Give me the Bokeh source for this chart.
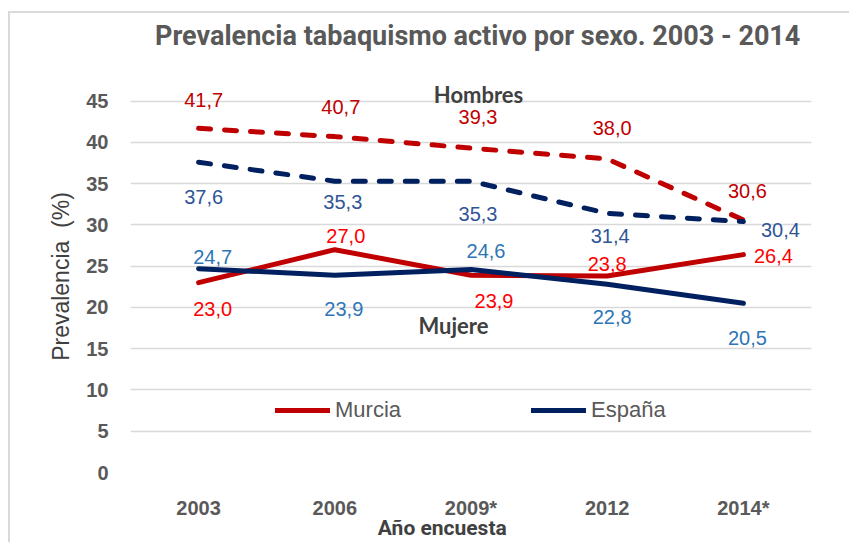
from bokeh.plotting import figure
from bokeh.models import (FactorRange, Range1d, ColumnDataSource, Legend, LegendItem,
                          Label, Title)
from bokeh.core.properties import value
from bokeh.embed import file_html
from bokeh.resources import INLINE

# ---- data ----
years = ["2003", "2006", "2009*", "2012", "2014*"]
murcia_hombres = [41.7, 40.7, 39.3, 38.0, 30.6]
espana_hombres = [37.6, 35.3, 35.3, 31.4, 30.4]
murcia_mujeres = [23.0, 27.0, 23.9, 23.8, 26.4]
espana_mujeres = [24.7, 23.9, 24.6, 22.8, 20.5]
y_ticks = [0, 5, 10, 15, 20, 25, 30, 35, 40, 45]

# ---- label placement (screen px; dy positive = down) ----
mh_dx = [5, 6, 7, 5, 4];    mh_dy = [-28, -30, -31, -31, -29]
eh_dx = [5, 8, 7, 3, 37];   eh_dy = [35, 21, 33, 23, 8]
mm_dx = [14, 11, 23, 0, 30]; mm_dy = [26, -14, 26, -12, 1]
em_dx = [14, 9, 15, 5, 4];  em_dy = [-12, 34, -18, 33, 35]

RED = "#c00000"
NAVY = "#002060"
GRAY = "#595959"
NB = "\u00a0"

p = figure(width=849, height=542, x_range=FactorRange(factors=years),
           y_range=Range1d(0, 47.5), output_backend="svg", toolbar_location=None,
           min_border_left=130, min_border_right=38, min_border_top=80,
           min_border_bottom=67)
p.styles = {"background": "linear-gradient(#d9d9d9, #d9d9d9) 8px 11px / calc(100% - 8px) 2px no-repeat, "
                          "linear-gradient(#d9d9d9, #d9d9d9) 8px 11px / 2px calc(100% - 11px) no-repeat, white"}
p.outline_line_color = None
p.background_fill_color = "white"
p.border_fill_color = None

p.title.text = NB + NB + "Prevalencia tabaquismo activo por sexo. 2003 - 2014"
p.title.text_font = "Roboto"
p.title.text_font_size = "27px"
p.title.text_font_style = "bold"
p.title.text_color = GRAY
p.title.align = "center"
p.title.standoff = 5

# spacer between title and plot area
p.add_layout(Title(text=NB, text_font_size="2px", standoff=22), "above")

p.xgrid.grid_line_color = None
p.ygrid.grid_line_color = "#d9d9d9"
p.ygrid.grid_line_width = 1.5
p.yaxis.ticker = y_ticks

for ax in (p.xaxis[0], p.yaxis[0]):
    ax.axis_line_color = None
    ax.major_tick_line_color = None
    ax.minor_tick_line_color = None
    ax.major_tick_out = 0
    ax.major_tick_in = 0
    ax.major_label_text_font = "Liberation Sans"
    ax.major_label_text_font_size = "20px"
    ax.major_label_text_font_style = "bold"
    ax.major_label_text_color = GRAY

p.yaxis.major_label_standoff = 22
p.xaxis.major_label_standoff = 24
p.yaxis.axis_label = "Prevalencia" + NB + NB + "(%)"
p.yaxis.axis_label_text_font = "Liberation Sans"
p.yaxis.axis_label_text_font_size = "23px"
p.yaxis.axis_label_text_font_style = "normal"
p.yaxis.axis_label_text_color = "#404040"
p.yaxis.axis_label_standoff = 9

p.xaxis.axis_label = "Año encuesta" + NB * 11
p.xaxis.axis_label_text_font = "Roboto"
p.xaxis.axis_label_text_font_size = "21px"
p.xaxis.axis_label_text_font_style = "bold"
p.xaxis.axis_label_text_color = "#404040"
p.xaxis.axis_label_standoff = -6

def fmt(vals):
    return [f"{v:.1f}".replace(".", ",") for v in vals]

series = [
    (murcia_hombres, RED, "12 14", mh_dx, mh_dy, RED),
    (espana_hombres, NAVY, "12 14", eh_dx, eh_dy, "#2f5597"),
    (murcia_mujeres, RED, "solid", mm_dx, mm_dy, "#ff0000"),
    (espana_mujeres, NAVY, "solid", em_dx, em_dy, "#2e75b6"),
]
renderers = []
for vals, col, dash, dx, dy, lcol in series:
    src = ColumnDataSource(dict(x=years, y=vals, t=fmt(vals), dx=dx, dy=dy))
    r = p.line("x", "y", source=src, line_color=col, line_width=5,
               line_dash=dash, line_cap="round", line_join="round")
    renderers.append(r)
    p.text("x", "y", text="t", source=src, x_offset="dx", y_offset="dy",
           text_color=lcol, text_font=value("Liberation Sans"),
           text_font_size="20px", text_align="center", text_baseline="middle")

legend = Legend(items=[LegendItem(label="Murcia", renderers=[renderers[2]]),
                       LegendItem(label="España", renderers=[renderers[3]])],
                orientation="horizontal", location=(145, 49),
                glyph_width=55, glyph_height=20, label_standoff=5, spacing=130,
                padding=0, margin=0, border_line_color=None,
                background_fill_alpha=0, label_text_font="Liberation Sans",
                label_text_font_size="22px", label_text_color=GRAY)
p.add_layout(legend)

p.add_layout(Label(x=348, y=378, x_units="screen", y_units="screen", text="Hombres",
                   text_font="Lato", text_font_style="bold", text_font_size="22px",
                   text_color="#404040", text_align="center", text_baseline="middle"))
p.add_layout(Label(x=323, y=147, x_units="screen", y_units="screen", text="Mujere",
                   text_font="Lato", text_font_style="bold", text_font_size="22px",
                   text_color="#404040", text_align="center", text_baseline="middle"))

open("out.html", "w").write(file_html(p, INLINE))
